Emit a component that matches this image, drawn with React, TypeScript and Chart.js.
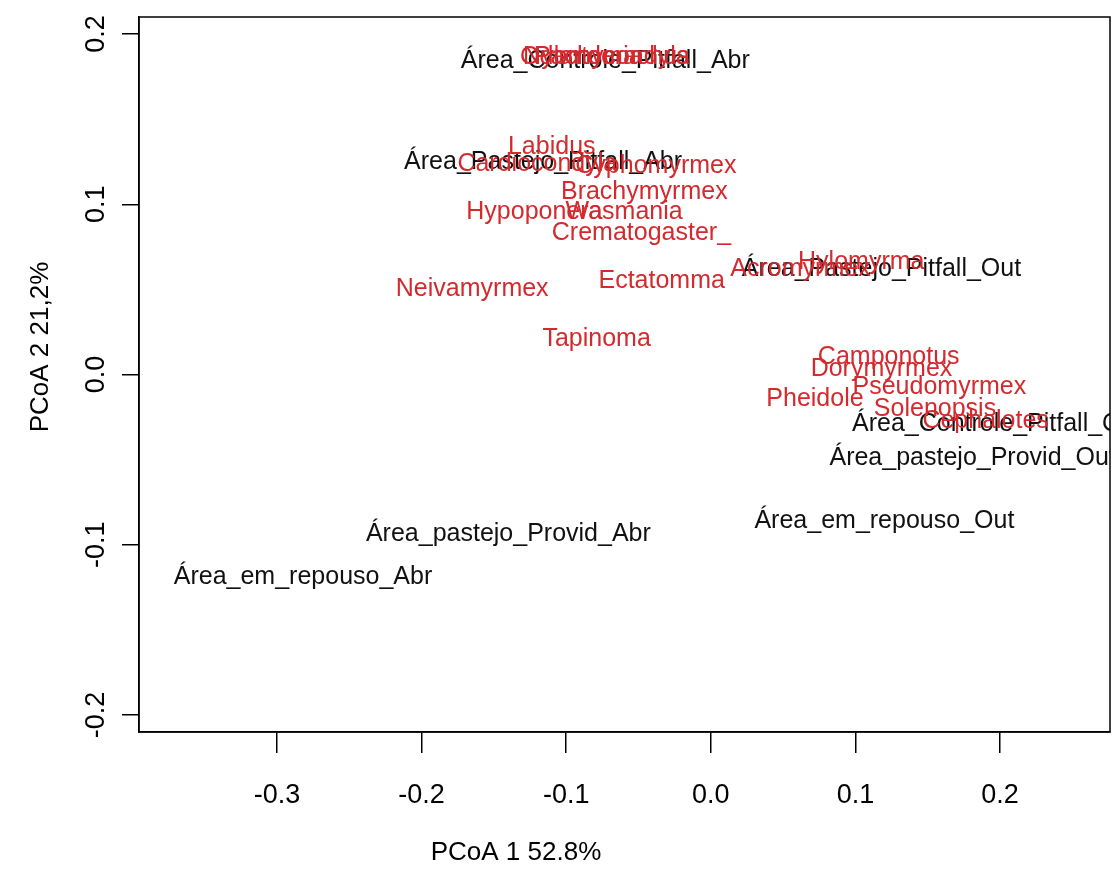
import React, { useEffect, useRef } from "react";
import { Chart, registerables } from "chart.js";

Chart.register(...registerables);

// Site scores (black labels)
const siteNames = [
  "Área_Controle_Pitfall_Abr",
  "Área_Pastejo_Pitfall_Abr",
  "Área_Pastejo_Pitfall_Out",
  "Área_Controle_Pitfall_Out",
  "Área_pastejo_Provid_Out",
  "Área_pastejo_Provid_Abr",
  "Área_em_repouso_Out",
  "Área_em_repouso_Abr",
];
const siteX = [-0.073, -0.116, 0.118, 0.198, 0.181, -0.140, 0.120, -0.282];
const siteY = [0.184, 0.1245, 0.062, -0.029, -0.049, -0.094, -0.086, -0.119];

// Species scores (red labels)
const speciesNames = [
  "Nylanderia",
  "Odontomachus",
  "Pachycondyla",
  "Labidus",
  "Cardiocondyla",
  "Cyphomyrmex",
  "Brachymyrmex",
  "Hypoponera",
  "Wasmania",
  "Crematogaster_",
  "Ectatomma",
  "Acromyrmex",
  "Hylomyrma",
  "Neivamyrmex",
  "Tapinoma",
  "Camponotus",
  "Dorymyrmex",
  "Pseudomyrmex",
  "Pheidole",
  "Solenopsis",
  "Cephalotes",
];
const speciesX = [
  -0.0885, -0.0733, -0.0685, -0.110, -0.120, -0.038, -0.046, -0.122, -0.060, -0.048,
  -0.034, 0.062, 0.104, -0.165, -0.079, 0.123, 0.118, 0.158, 0.072, 0.155, 0.190,
];
const speciesY = [
  0.1865, 0.1865, 0.1865, 0.1335, 0.1235, 0.1225, 0.107, 0.0955, 0.0955, 0.083,
  0.055, 0.062, 0.066, 0.050, 0.0205, 0.0105, 0.003, -0.0075, -0.0145, -0.0205, -0.0275,
];

const xTickValues = [-0.3, -0.2, -0.1, 0.0, 0.1, 0.2];
const yTickValues = [-0.2, -0.1, 0.0, 0.1, 0.2];
const xTitle = "PCoA 1 52.8%";
const yTitle = "PCoA 2 21,2%";

const FONT = "'Liberation Sans', Arial, Helvetica, sans-serif";

const labelPlugin = {
  id: "pointLabels",
  afterDatasetsDraw(chart: any) {
    const { ctx, chartArea } = chart;
    ctx.save();
    ctx.beginPath();
    ctx.rect(chartArea.left, chartArea.top, chartArea.right - chartArea.left, chartArea.bottom - chartArea.top);
    ctx.clip();
    ctx.textAlign = "center";
    ctx.textBaseline = "middle";
    chart.data.datasets.forEach((ds: any, i: number) => {
      const meta = chart.getDatasetMeta(i);
      ctx.fillStyle = ds.labelColor;
      ctx.font = `25px ${FONT}`;
      meta.data.forEach((el: any, j: number) => {
        ctx.fillText(ds.names[j], el.x, el.y);
      });
    });
    ctx.restore();
  },
  afterDraw(chart: any) {
    const { ctx, chartArea } = chart;
    ctx.save();
    ctx.strokeStyle = "#000";
    ctx.lineWidth = 1.5;
    ctx.strokeRect(chartArea.left, chartArea.top, chartArea.right - chartArea.left, chartArea.bottom - chartArea.top);
    ctx.fillStyle = "#000";
    ctx.font = `26px ${FONT}`;
    ctx.textAlign = "center";
    ctx.textBaseline = "middle";
    ctx.fillText(xTitle, 516, 853);
    ctx.translate(41, 347);
    ctx.rotate(-Math.PI / 2);
    ctx.fillText(yTitle, 0, 0);
    ctx.restore();
  },
};

export default function App() {
  const ref = useRef<HTMLCanvasElement | null>(null);
  useEffect(() => {
    if (!ref.current) return;
    const chart = new Chart(ref.current, {
      type: "scatter",
      data: {
        datasets: [
          {
            label: "sites",
            data: siteX.map((x, i) => ({ x, y: siteY[i] })),
            pointRadius: 0,
            names: siteNames,
            labelColor: "#111111",
          } as any,
          {
            label: "species",
            data: speciesX.map((x, i) => ({ x, y: speciesY[i] })),
            pointRadius: 0,
            names: speciesNames,
            labelColor: "#d42a2e",
          } as any,
        ],
      },
      options: {
        animation: false,
        responsive: false,
        maintainAspectRatio: false,
        layout: { padding: { top: 17, right: 7, left: 0, bottom: 0 } },
        plugins: { legend: { display: false }, tooltip: { enabled: false }, title: { display: false } },
        scales: {
          x: {
            type: "linear",
            min: -0.3954,
            max: 0.276,
            afterBuildTicks: (s: any) => {
              s.ticks = xTickValues.map((v) => ({ value: v }));
            },
            afterFit: (s: any) => {
              s.height = 152;
              s.paddingLeft = 0;
              s.paddingRight = 0;
            },
            grid: { display: true, drawOnChartArea: false, drawTicks: true, tickLength: 21, color: "#000", lineWidth: 1.5 },
            border: { display: true, color: "#000", width: 1.5 },
            ticks: {
              color: "#000",
              padding: 26,
              maxRotation: 0,
              autoSkip: false,
              font: { family: FONT, size: 27, lineHeight: 1.2 },
              callback: (v: any) => Number(v).toFixed(1),
            },
          },
          y: {
            type: "linear",
            min: -0.21,
            max: 0.21,
            afterBuildTicks: (s: any) => {
              s.ticks = yTickValues.map((v) => ({ value: v }));
            },
            afterFit: (s: any) => {
              s.width = 139;
              s.paddingTop = 0;
              s.paddingBottom = 0;
            },
            grid: { display: true, drawOnChartArea: false, drawTicks: true, tickLength: 17, color: "#000", lineWidth: 1.5 },
            border: { display: true, color: "#000", width: 1.5 },
            ticks: {
              color: "#000",
              padding: 2,
              minRotation: 90,
              maxRotation: 90,
              crossAlign: "center",
              autoSkip: false,
              font: { family: FONT, size: 27, lineHeight: 1.2 },
              callback: (v: any) => Number(v).toFixed(1),
            },
          },
        },
      } as any,
      plugins: [labelPlugin],
    });
    return () => chart.destroy();
  }, []);
  return (
    <div style={{ position: "fixed", left: 0, top: 0, width: 1117, height: 884, background: "#fff" }}>
      <canvas ref={ref} width={1117} height={884} style={{ width: 1117, height: 884, display: "block" }} />
    </div>
  );
}
